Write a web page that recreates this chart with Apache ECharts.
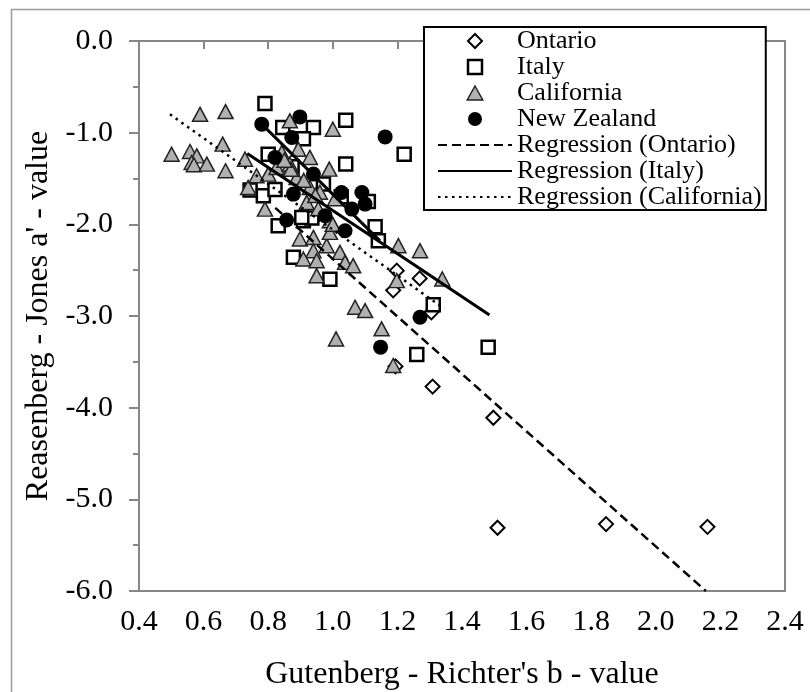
<!DOCTYPE html>
<html>
<head>
<meta charset="utf-8">
<script src="https://cdn.jsdelivr.net/npm/echarts@6/dist/echarts.min.js"></script>
<style>
    html, body { margin: 0; padding: 0; background: #fff; }
    #chart { width: 810px; height: 692px; }
</style>
</head>
<body>
<div id="chart"></div>
<script>
    // b-value (x) and a'-value (y)
    var ontario = [
        [1.198, -2.505], [1.187, -2.72], [1.269, -2.59], [1.305, -2.96], [1.194, -3.55],
        [1.309, -3.77], [1.497, -4.11], [1.510, -5.31], [1.846, -5.27], [2.160, -5.30]
    ];
    var italy = [
        [0.790, -0.683], [0.845, -0.944], [0.940, -0.944], [0.909, -1.065], [1.040, -0.864],
        [1.221, -1.236], [1.040, -1.343], [0.971, -1.561], [0.800, -1.235], [0.744, -1.626],
        [0.785, -1.688], [0.821, -1.620], [0.831, -2.015], [0.909, -1.960], [0.935, -1.930],
        [0.878, -2.360], [0.991, -2.600], [1.131, -2.025], [1.141, -2.179], [1.110, -1.750],
        [1.026, -1.700], [1.311, -2.876], [1.260, -3.420], [1.481, -3.340], [0.874, -1.372],
        [0.904, -1.925]
    ];
    var california = [
        [0.501, -1.235], [0.558, -1.206], [0.579, -1.253], [0.563, -1.326], [0.570, -1.350],
        [0.610, -1.343], [0.589, -0.800], [0.668, -0.770], [0.659, -1.125], [0.668, -1.416],
        [0.728, -1.289], [0.738, -1.598], [0.764, -1.470], [0.790, -1.834], [0.800, -1.452],
        [0.826, -1.380], [0.842, -1.216], [0.867, -0.871], [0.893, -1.180], [0.929, -1.270],
        [0.867, -1.343], [0.888, -1.490], [0.929, -1.598], [0.919, -1.761], [0.989, -1.398],
        [1.000, -0.962], [1.007, -1.720], [0.991, -1.960], [0.898, -2.160], [0.940, -2.143],
        [0.940, -2.288], [0.909, -2.378], [0.950, -2.397], [0.950, -2.560], [0.981, -2.233],
        [0.991, -2.088], [1.022, -2.306], [1.038, -2.415], [1.063, -2.451], [1.203, -2.233],
        [1.270, -2.288], [1.339, -2.596], [1.198, -2.614], [1.069, -2.905], [1.100, -2.941],
        [1.151, -3.140], [1.010, -3.250], [1.187, -3.540], [0.955, -1.830], [0.870, -1.400],
        [0.910, -1.520], [0.960, -1.650], [0.850, -1.300], [1.000, -2.000], [0.946, -1.685]
    ];
    var newZealand = [
        [0.780, -0.907], [0.898, -0.828], [0.873, -1.053], [0.821, -1.271], [1.162, -1.046],
        [0.940, -1.452], [0.878, -1.670], [1.027, -1.652], [1.090, -1.652], [1.059, -1.834],
        [1.100, -1.779], [0.976, -1.906], [0.857, -1.953], [1.038, -2.070], [1.270, -3.014],
        [1.148, -3.340]
    ];
    // regression lines, end points
    var regOntario = [[0.822, -1.820], [2.155, -6.000]];
    var regItaly = [[0.735, -1.228], [1.485, -2.990]];
    var regCalifornia = [[0.496, -0.800], [1.345, -2.920]];
    var regNZ = [[0.780, -0.907], [1.146, -2.180]];

    var FONT = '"Liberation Serif", "Times New Roman", serif';
    var AXIS_GREY = '#878787';

    // icons kept as paths so the legend keeps their aspect
    var ICON_DIAMOND = 'path://M5,0 L10,5 L5,10 L0,5 Z';
    var ICON_SQUARE = 'path://M0,0 L10,0 L10,10 L0,10 Z';
    var ICON_TRIANGLE = 'path://M5,0 L10,9 L0,9 Z';
    var ICON_CIRCLE = 'path://M5,0 A5,5 0 1,1 4.99,0 Z';

    function lineSeries(name, data, type) {
        return {
            name: name,
            type: 'line',
            data: data,
            symbol: 'none',
            z: 5,
            lineStyle: { color: '#000', width: type === 'solid' ? 3 : 2.5, type: type },
            itemStyle: { color: '#000' }
        };
    }
    // line entries: hide the little marker the line legend adds
    function lineLegend(name) {
        return { name: name, itemStyle: { opacity: 0 } };
    }

    var chart = echarts.init(document.getElementById('chart'));
    var option = {
        animation: false,
        backgroundColor: '#fff',
        textStyle: { fontFamily: FONT, color: '#000' },
        graphic: [{
            type: 'rect',
            left: 9, top: 7,
            shape: { width: 900, height: 800 },
            style: { fill: 'none', stroke: '#9a9a9a', lineWidth: 1.5 },
            silent: true
        }],
        grid: {
            left: 139, right: 25, top: 41, bottom: 101,
            containLabel: false,
            outerBoundsMode: 'none',
            show: true,
            borderColor: AXIS_GREY,
            borderWidth: 2
        },
        legend: {
            left: 424, top: 27,
            orient: 'vertical',
            padding: [1, 4, 0, 13],
            itemGap: 0,
            itemWidth: 74,
            itemHeight: 14,
            backgroundColor: '#fff',
            borderColor: '#000',
            borderWidth: 2,
            z: 10,
            textStyle: { fontFamily: FONT, fontSize: 26, lineHeight: 26, color: '#000' },
            data: [
                { name: 'Ontario', icon: ICON_DIAMOND, itemStyle: { color: '#fff', borderColor: '#000', borderWidth: 2 } },
                { name: 'Italy', icon: ICON_SQUARE, itemStyle: { color: '#fff', borderColor: '#000', borderWidth: 2.5 } },
                { name: 'California', icon: ICON_TRIANGLE, itemStyle: { color: '#b0b0b0', borderColor: '#222', borderWidth: 1.5 } },
                { name: 'New Zealand', icon: ICON_CIRCLE, itemStyle: { color: '#000' } },
                lineLegend('Regression (Ontario)'),
                lineLegend('Regression (Italy)'),
                lineLegend('Regression (California)')
            ]
        },
        xAxis: {
            type: 'value',
            min: 0.4, max: 2.4, interval: 0.2,
            splitLine: { show: false },
            axisLine: { lineStyle: { color: AXIS_GREY, width: 2 } },
            axisTick: { length: 8, lineStyle: { color: AXIS_GREY, width: 2 } },
            axisLabel: {
                margin: 16,
                fontFamily: FONT, fontSize: 30, color: '#000',
                formatter: function (v) { return v.toFixed(1); }
            },
            name: "Gutenberg - Richter's b - value",
            nameLocation: 'middle',
            nameGap: 68,
            nameTextStyle: { fontFamily: FONT, fontSize: 32, color: '#000' }
        },
        yAxis: {
            type: 'value',
            min: -6, max: 0, interval: 1,
            splitLine: { show: false },
            axisLine: { lineStyle: { color: AXIS_GREY, width: 2 } },
            axisTick: { length: 10, lineStyle: { color: AXIS_GREY, width: 2 } },
            minorTick: { show: true, splitNumber: 2, length: 6, lineStyle: { color: AXIS_GREY, width: 2 } },
            minorSplitLine: { show: false },
            axisLabel: {
                margin: 26,
                fontFamily: FONT, fontSize: 30, color: '#000',
                formatter: function (v) { return v.toFixed(1); }
            },
            name: "Reasenberg - Jones a' - value",
            nameLocation: 'middle',
            nameGap: 84,
            nameTextStyle: { fontFamily: FONT, fontSize: 32, color: '#000' }
        },
        series: [
            {
                name: 'Ontario', type: 'scatter', data: ontario,
                symbol: 'diamond', symbolSize: 14,
                itemStyle: { color: '#fff', borderColor: '#000', borderWidth: 2, opacity: 1 }
            },
            {
                name: 'Italy', type: 'scatter', data: italy,
                symbol: 'rect', symbolSize: 13,
                itemStyle: { color: '#fff', borderColor: '#000', borderWidth: 2.5, opacity: 1 }
            },
            {
                name: 'California', type: 'scatter', data: california,
                symbol: 'triangle', symbolSize: [15, 14],
                itemStyle: { color: '#b0b0b0', borderColor: '#222', borderWidth: 1.5, opacity: 1 }
            },
            {
                name: 'New Zealand', type: 'scatter', data: newZealand,
                symbol: 'circle', symbolSize: 15,
                itemStyle: { color: '#000', opacity: 1 }
            },
            lineSeries('Regression (Ontario)', regOntario, [9, 5]),
            lineSeries('Regression (Italy)', regItaly, 'solid'),
            lineSeries('Regression (California)', regCalifornia, [2.5, 4.5]),
            lineSeries('Regression (New Zealand)', regNZ, 'solid')
        ]
    };
    chart.setOption(option);
</script>
</body>
</html>
